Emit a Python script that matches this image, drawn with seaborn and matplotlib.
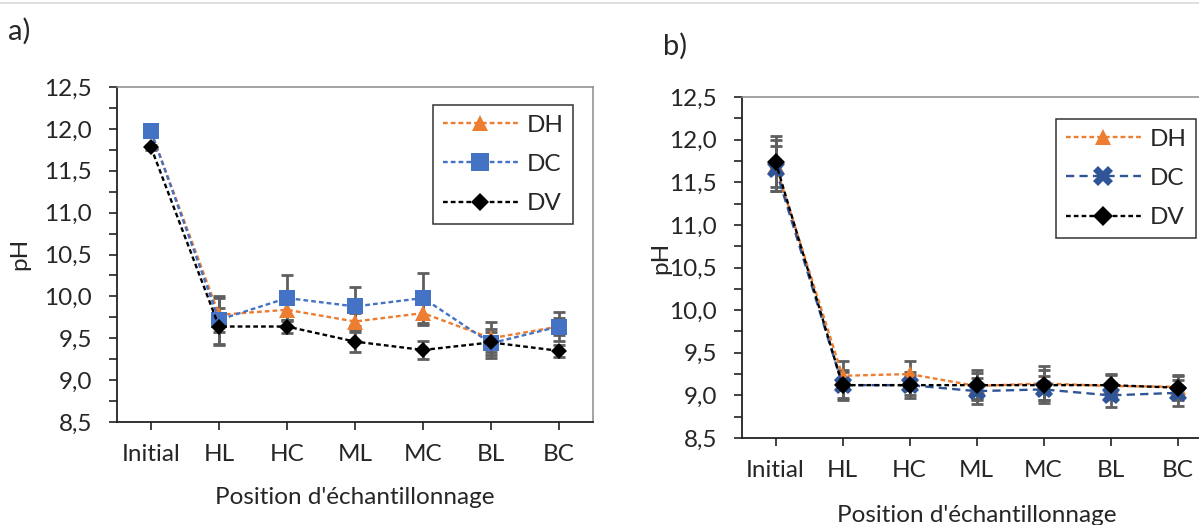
import matplotlib
matplotlib.use("Agg")
import matplotlib.pyplot as plt
from matplotlib.lines import Line2D
from matplotlib.ticker import MultipleLocator, FuncFormatter
import seaborn as sns
import pandas as pd

# Sampling positions
positions = ["Initial", "HL", "HC", "ML", "MC", "BL", "BC"]

# a) pH per position, with standard deviations
dh_a = [11.97, 9.78, 9.84, 9.70, 9.80, 9.50, 9.64]
dh_a_err = [0.03, 0.20, 0.12, 0.10, 0.14, 0.20, 0.10]
dc_a = [11.97, 9.72, 9.98, 9.88, 9.98, 9.44, 9.64]
dc_a_err = [0.03, 0.29, 0.27, 0.23, 0.30, 0.17, 0.17]
dv_a = [11.78, 9.64, 9.64, 9.46, 9.36, 9.45, 9.35]
dv_a_err = [0.03, 0.22, 0.08, 0.12, 0.11, 0.12, 0.07]

# b) pH per position, with standard deviations
dh_b = [11.70, 9.23, 9.25, 9.11, 9.14, 9.11, 9.10]
dh_b_err = [0.30, 0.17, 0.15, 0.15, 0.20, 0.13, 0.13]
dc_b = [11.66, 9.12, 9.12, 9.05, 9.07, 9.00, 9.03]
dc_b_err = [0.26, 0.15, 0.12, 0.15, 0.16, 0.14, 0.15]
dv_b = [11.74, 9.12, 9.12, 9.12, 9.12, 9.12, 9.09]
dv_b_err = [0.30, 0.18, 0.15, 0.18, 0.18, 0.13, 0.15]

series_labels = ["DH", "DC", "DV"]

sns.set_theme(style="white")
plt.rcParams["font.family"] = ["Lato", "DejaVu Sans"]

FS = 17.5
ORANGE = "#ED7D31"
BLUE_A = "#4472C4"
BLUE_B = "#2F5597"
ERR = "#5f5f5f"

W, H = 1199, 525
fig = plt.figure(figsize=(W / 100, H / 100), dpi=100)


def box(l, t, r, b):
    return [l / W, 1 - b / H, (r - l) / W, (b - t) / H]


axA = fig.add_axes(box(117, 87, 593, 422))
axB = fig.add_axes(box(742, 97, 1211, 438))

short_dash = (0, (2.0, 1.3))
long_dash = (0, (3.5, 2.2))

styles_a = [
    dict(color=ORANGE, marker="^", markersize=11, linestyle=short_dash),
    dict(color=BLUE_A, marker="s", markersize=12, linestyle=short_dash),
    dict(color="black", marker="D", markersize=8.5, linestyle=short_dash),
]
styles_b = [
    dict(color=ORANGE, marker="^", markersize=11, linestyle=short_dash),
    dict(color=BLUE_B, marker="X", markersize=13, linestyle=long_dash),
    dict(color="black", marker="D", markersize=9, linestyle=short_dash),
]


def draw_panel(ax, values, errors, styles, legend_anchor):
    handles = []
    for lab, vals, errs, st in zip(series_labels, values, errors, styles):
        df = pd.DataFrame({"Position": positions, "pH": vals})
        ax.errorbar(df["Position"], df["pH"], yerr=errs, fmt="none",
                    ecolor=ERR, elinewidth=2.0, capsize=4, capthick=2.0,
                    zorder=2)
        sns.lineplot(data=df, x="Position", y="pH", ax=ax, sort=False,
                     errorbar=None, color=st["color"], marker=st["marker"],
                     markersize=st["markersize"], markeredgewidth=0,
                     linestyle=st["linestyle"], linewidth=1.7, zorder=3,
                     label=lab, legend=False)
        handles.append(Line2D([], [], color=st["color"], marker=st["marker"],
                              markersize=st["markersize"] + 1,
                              markeredgewidth=0, linestyle=st["linestyle"],
                              linewidth=1.7, label=lab))
    ax.set_xlim(-0.5, len(positions) - 0.5)
    ax.set_ylim(8.5, 12.5)
    ax.yaxis.set_major_locator(MultipleLocator(0.5))
    ax.yaxis.set_minor_locator(MultipleLocator(0.25))
    ax.yaxis.set_major_formatter(
        FuncFormatter(lambda v, p: f"{v:.1f}".replace(".", ",")))
    ax.tick_params(axis="y", which="both", direction="out", length=6,
                   width=1.2, color="#222222", left=True, labelsize=FS,
                   pad=12)
    ax.tick_params(axis="x", which="major", direction="out", length=6,
                   width=1.2, color="#222222", bottom=True, labelsize=FS,
                   pad=10)
    for side in ("left", "bottom"):
        ax.spines[side].set_color("#222222")
        ax.spines[side].set_linewidth(1.3)
    for side in ("top", "right"):
        ax.spines[side].set_color("#8c8c8c")
        ax.spines[side].set_linewidth(1.1)
    leg = ax.legend(handles=handles, loc="upper left",
                    bbox_to_anchor=legend_anchor,
                    bbox_transform=fig.transFigure, fontsize=FS,
                    borderaxespad=0, handlelength=3.1, handletextpad=0.35,
                    labelspacing=0.75, borderpad=0.4, fancybox=False,
                    framealpha=1, edgecolor="#333333")
    leg.get_frame().set_linewidth(1.1)
    ax.set_ylabel("pH", fontsize=FS)
    ax.set_xlabel("Position d'échantillonnage", fontsize=FS)
    ax.xaxis.label.set_verticalalignment("center")
    ax.yaxis.label.set_verticalalignment("center")


draw_panel(axA, [dh_a, dc_a, dv_a], [dh_a_err, dc_a_err, dv_a_err], styles_a,
           (433 / W, 1 - 105 / H))
draw_panel(axB, [dh_b, dc_b, dv_b], [dh_b_err, dc_b_err, dv_b_err], styles_b,
           (1056 / W, 1 - 119 / H))

axA.yaxis.set_label_coords((20 - 117) / 476, (422 - 254) / 335)
axA.xaxis.set_label_coords(0.5, (422 - 497) / 335)
axB.yaxis.set_label_coords((661 - 742) / 469, (438 - 258) / 341)
axB.xaxis.set_label_coords(0.5, (438 - 515) / 341)

fig.text(8 / W, 1 - 31 / H, "a)", fontsize=21, va="center", ha="left")
fig.text(663 / W, 1 - 46 / H, "b)", fontsize=21, va="center", ha="left")

# thin separator along the top edge
fig.add_artist(Line2D([0, 1], [1 - 3 / H, 1 - 3 / H], transform=fig.transFigure,
                      color="#d9d9d9", linewidth=1.2))

fig.savefig("out.png", dpi=100)
